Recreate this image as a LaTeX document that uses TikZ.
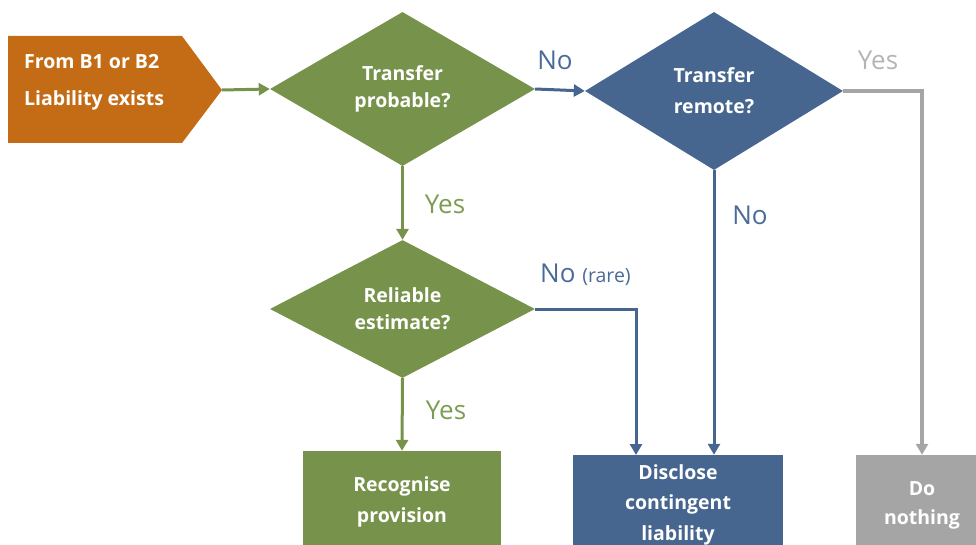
\documentclass[tikz,border=0pt]{standalone}
\usepackage{fontspec}
\setmainfont{Open Sans}
\usetikzlibrary{shapes.geometric,arrows.meta,calc}
\definecolor{cOrange}{HTML}{C46C15}
\definecolor{cGreen}{HTML}{77934B}
\definecolor{cBlue}{HTML}{466690}
\definecolor{cGray}{HTML}{A5A5A5}
\definecolor{lGreen}{HTML}{7C9C52}
\definecolor{lBlue}{HTML}{4A6A98}
\definecolor{lGray}{HTML}{B4B4B4}
\tikzset{
  dia/.style={diamond, inner sep=0pt, text=white, align=center, font=\bfseries\fontsize{19.5}{27}\selectfont},
  boxn/.style={rectangle, inner sep=0pt, text=white, align=center, font=\bfseries\fontsize{19.5}{31}\selectfont},
  conn/.style={line width=3pt, -{Triangle[length=11pt,width=12pt]}},
  lab/.style={font=\fontsize{26}{26}\selectfont, inner sep=0pt},
}
\begin{document}
\begin{tikzpicture}[x=1pt,y=-1pt]
\clip (0,0) rectangle (976,545);
\useasboundingbox (0,0) rectangle (976,545);
% source pentagon
\fill[cOrange] (8,36) -- (182,36) -- (222,90) -- (182,143) -- (8,143) -- cycle;
\coordinate (srcTip) at (222,90);
\node (srcText) [anchor=west, align=left, text=white, inner sep=0pt,
  font=\bfseries\fontsize{19.5}{37}\selectfont] at (24,82) {From B1 or B2\\Liability exists};
% diamonds
\node (d1) [dia, fill=cGreen, minimum width=265, minimum height=154] at (402.5,89) {Transfer\\probable?};
\node (d2) [dia, fill=cBlue, minimum width=258, minimum height=158, font=\bfseries\fontsize{19.5}{31}\selectfont] at (714,91) {Transfer\\remote?};
\node (d3) [dia, fill=cGreen, minimum width=265, minimum height=134] at (402.5,309) {Reliable\\estimate?};
% boxes
\node (rec) [boxn, fill=cGreen, minimum width=198, minimum height=101] at (402,501.5) {Recognise\\provision};
\node (disc) [boxn, fill=cBlue, minimum width=210, minimum height=99, font=\bfseries\fontsize{19.5}{30.5}\selectfont] at (678,504.5) {Disclose\\contingent\\liability};
\node (dn) [boxn, fill=cGray, minimum width=132, minimum height=101, font=\bfseries\fontsize{19.5}{29}\selectfont] at (922,505.5) {Do\\nothing};
\coordinate (discIn) at (636,455);
% connectors
\draw[conn, cGreen] (srcTip) -- (d1.west);
\draw[conn, cBlue] (d1.east) -- (d2.west);
\draw[conn, cGray, line width=4pt] (d2.east) -| (dn.north);
\draw[conn, cBlue] (d2.south) -- (d2.south |- disc.north);
\draw[conn, cGreen] (d1.south) -- (d3.north);
\draw[conn, cBlue] (d3.east) -| (discIn);
\draw[conn, cGreen] (d3.south) -- (rec.north);
% labels
\node (lNo1) [lab, text=lBlue] at (555,60) {No};
\node (lYes1) [lab, text=lGray] at (878,60) {Yes};
\node (lNo2) [lab, text=lBlue] at (750,215) {No};
\node (lYes2) [lab, text=lGreen] at (445,204) {Yes};
\node (lNo3) [lab, text=lBlue, anchor=west] at (540,275) {No \fontsize{19.5}{19.5}\selectfont(rare)};
\node (lYes3) [lab, text=lGreen] at (446,410) {Yes};
\end{tikzpicture}
\end{document}
